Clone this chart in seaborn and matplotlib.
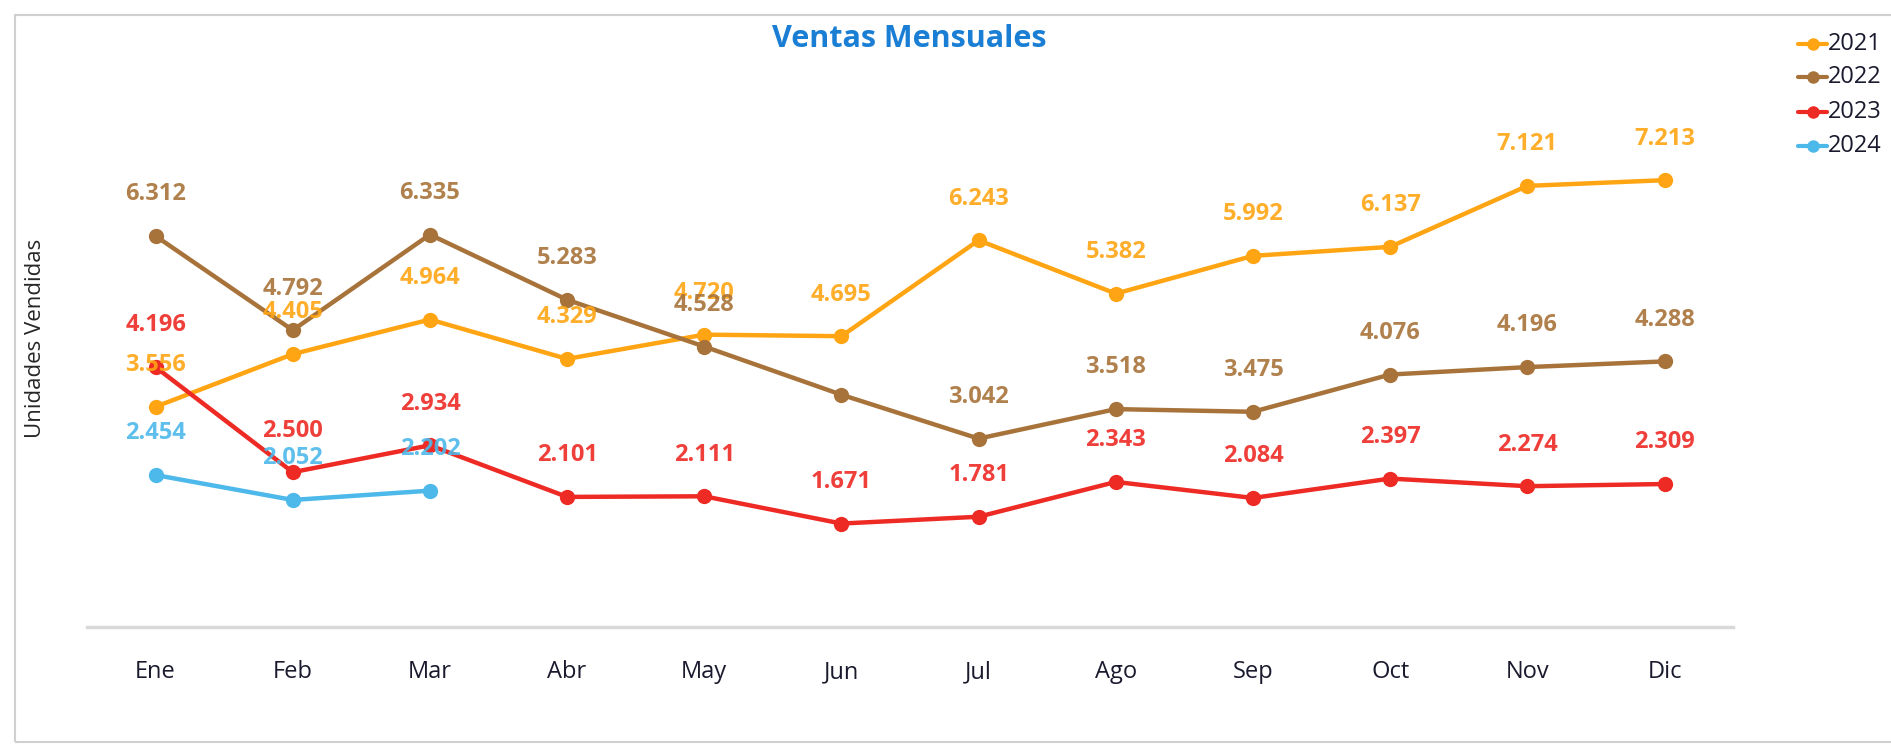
import pandas as pd
import seaborn as sns
import matplotlib.pyplot as plt
from matplotlib.patches import Rectangle

# datos
meses = ["Ene", "Feb", "Mar", "Abr", "May", "Jun", "Jul", "Ago", "Sep", "Oct", "Nov", "Dic"]
ventas_2021 = [3.556, 4.405, 4.964, 4.329, 4.720, 4.695, 6.243, 5.382, 5.992, 6.137, 7.121, 7.213]
ventas_2022 = [6.312, 4.792, 6.335, 5.283, 4.528, 3.750, 3.042, 3.518, 3.475, 4.076, 4.196, 4.288]
ventas_2023 = [4.196, 2.500, 2.934, 2.101, 2.111, 1.671, 1.781, 2.343, 2.084, 2.397, 2.274, 2.309]
ventas_2024 = [2.454, 2.052, 2.202]
anios = ["2021", "2022", "2023", "2024"]
colores = ["#FFA514", "#A8733A", "#EE2A24", "#4DB8EA"]
# en el original no aparece la etiqueta de Jun 2022
sin_etiqueta = {("2022", "Jun")}

series = {"2021": ventas_2021, "2022": ventas_2022, "2023": ventas_2023, "2024": ventas_2024}
filas = []
for anio, vals in series.items():
    for mes, v in zip(meses, vals):
        filas.append({"mes": mes, "anio": anio, "ventas": v})
df = pd.DataFrame(filas)
df["x"] = df["mes"].map({m: i for i, m in enumerate(meses)})

sns.set_style("white")
plt.rcParams["font.family"] = ["Open Sans", "DejaVu Sans"]

fig = plt.figure(figsize=(18.91, 7.51), dpi=100)
ax = fig.add_axes([0.046, 0.165, 0.8705, 0.66])

paleta = dict(zip(anios, colores))
sns.lineplot(data=df, x="x", y="ventas", hue="anio", palette=paleta, marker="o",
             markersize=11, markeredgewidth=0, linewidth=3.2, ax=ax, legend=False)

for anio, col in zip(anios, colores):
    sub = df[df["anio"] == anio]
    for _, r in sub.iterrows():
        if (anio, r["mes"]) in sin_etiqueta:
            continue
        ax.annotate(f"{r['ventas']:.3f}", (r["x"], r["ventas"]), xytext=(0, 30),
                    textcoords="offset points", ha="center", va="center",
                    fontsize=17, fontweight="bold", color=col, alpha=0.9)

ax.set_xlim(-0.5, 11.5)
ax.set_ylim(0, 8)
ax.set_xticks(range(len(meses)))
ax.set_xticklabels(meses, fontsize=17, color="#1a1a2e")
ax.set_yticks([])
ax.set_xlabel("")
ax.set_ylabel("")
ax.tick_params(axis="x", length=0, pad=24)
for s in ["top", "right", "left"]:
    ax.spines[s].set_visible(False)
ax.spines["bottom"].set_color("#d9d9d9")
ax.spines["bottom"].set_linewidth(2.5)

fig.text(0.019, 0.55, "Unidades Vendidas", rotation=90, ha="center", va="center", fontsize=16)
fig.text(0.481, 0.948, "Ventas Mensuales", ha="center", va="center", fontsize=22,
         fontweight="bold", color="#1A7FD4")

# leyenda manual arriba a la derecha
ly = [0.942, 0.897, 0.851, 0.806]
for anio, col, y in zip(anios, colores, ly):
    fig.lines.append(plt.Line2D([0.951, 0.959, 0.966], [y, y, y], transform=fig.transFigure,
                                color=col, linewidth=3, marker="o", markersize=9,
                                markevery=[1], markeredgewidth=0))
    fig.text(0.9665, y, anio, ha="left", va="center", fontsize=17, color="#1a1a2e")

# marco del grafico
fig.patches.append(Rectangle((0.008, 0.012), 1.1, 0.968, transform=fig.transFigure,
                             fill=False, edgecolor="#d0d0d0", linewidth=1.5))

fig.savefig("out.png", dpi=100)
